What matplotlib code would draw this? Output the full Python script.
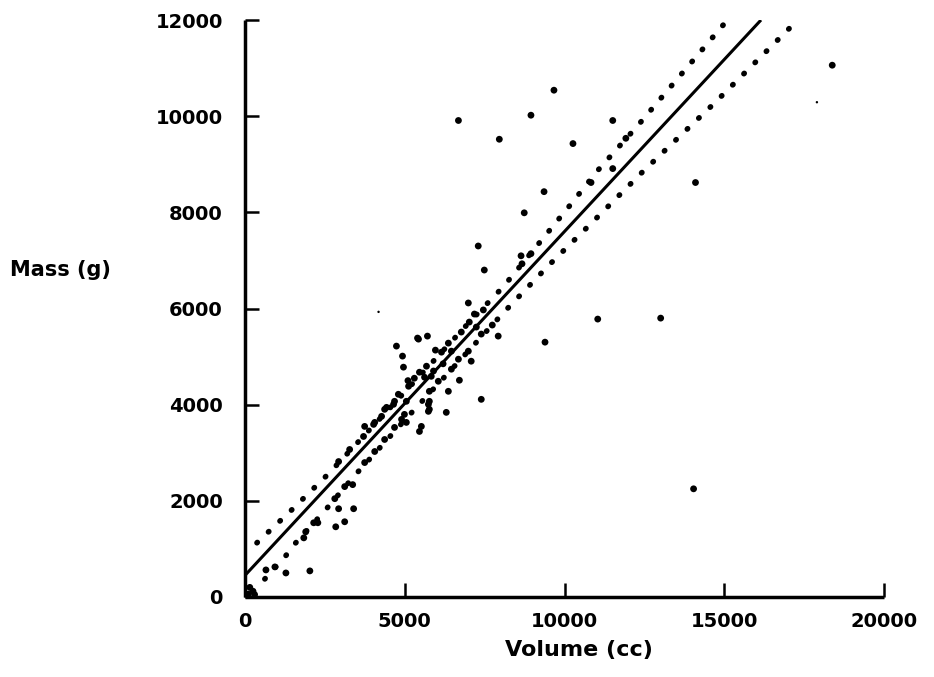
import matplotlib
matplotlib.use("Agg")
import matplotlib.pyplot as plt

# ---- data ----
volume = [655, 936, 1280, 2030, 1840, 1900, 2150, 2280, 2840, 3120, 2810, 2930, 3400,
          3120, 3370, 2930, 3745, 3275, 4060, 3710, 4370, 3745, 4025,
          4370, 4650, 4990, 4680, 5050, 5460, 5740, 5740, 6300, 4740, 4930, 4960,
          5400, 5710, 5960, 6150, 6365, 6460, 6770, 7020, 7240, 6990, 7080, 6680,
          6460, 5680, 5460, 5620, 5830, 6050, 6710, 6365, 5770, 5120, 4800, 4680,
          4430, 5050, 5770, 5770, 7395, 5520, 4900, 4060, 4275, 5300, 5900, 6200,
          5100, 6990, 7180, 7460, 7740, 7925, 7395, 5430,
          7300, 7490, 8950, 8640, 8670, 11040, 9390, 9670, 6680, 8950, 7960, 9360,
          8740, 11510, 10265, 11920, 11510, 10830, 14100, 13010, 14040, 18380,
          100, 250, 150, 300]
mass = [563, 626, 500, 543, 1230, 1356, 1544, 1544, 1460, 1565, 2045, 1836, 1836,
        2296, 2337, 2817, 2796, 3068, 3026, 3339, 3276, 3548, 3590,
        3903, 4007, 3798, 3527, 3631, 3443, 4007, 3861, 3840, 5218, 5010, 4780,
        5385, 5426, 5134, 5092, 5280, 5113, 5510, 5718, 5614, 5113, 4904, 4946,
        4738, 4800, 4675, 4570, 4590, 4487, 4508, 4278, 4278, 4383, 4216, 4070,
        3944, 4070, 4070, 3903, 4111, 3548, 3694, 3631, 3757, 4550, 4700, 4850,
        4500, 6115, 5885, 5970, 5656, 5426, 5468, 5363,
        7300, 6800, 7140, 7096, 6930, 5780, 5300, 10540, 9910, 10020, 9520, 8430,
        7990, 9910, 9430, 9540, 8910, 8620, 8620, 5800, 2250, 11060,
        60, 120, 200, 50]

speck_volume = [17900, 4180]
speck_mass = [10290, 5930]

fit_volume = [0, 16150]
fit_mass = [450, 12000]

upper_volume = [374, 1500, 2620, 4000, 5500, 7000, 8080, 9240, 10140, 11040, 12300, 13230, 15100]
upper_mass = [1127, 1836, 2567, 3550, 4620, 5700, 6449, 7388, 8120, 8870, 9810, 10540, 12000]

lower_volume = [620, 1250, 1560, 2500, 3430, 3775, 5000, 6500, 8110, 9490, 10920, 12390,
                13540, 14660, 17300]
lower_mass = [375, 835, 1106, 1795, 2525, 2776, 3680, 4760, 5927, 6887, 7826, 8807,
              9540, 10250, 12000]

x_ticks = [0, 5000, 10000, 15000, 20000]
y_ticks = [0, 2000, 4000, 6000, 8000, 10000, 12000]

# ---- figure ----
W, H = 934, 677
fig = plt.figure(figsize=(W / 100, H / 100), dpi=100)
ax = fig.add_axes([245 / W, (H - 597) / H, (884 - 245) / W, (597 - 20) / H])

font = dict(family="DejaVu Sans", weight="bold", size=14)

ax.scatter(volume, mass, s=24, c="black", edgecolors="none", zorder=3, clip_on=False)
ax.scatter(speck_volume, speck_mass, s=3, c="black", edgecolors="none", zorder=3)
ax.plot(fit_volume, fit_mass, color="black", lw=2.2, solid_capstyle="butt", zorder=2)
ax.plot(upper_volume, upper_mass, color="black", lw=4.0,
        linestyle=(0, (0.1, 2.75)), dash_capstyle="round", zorder=2)
ax.plot(lower_volume, lower_mass, color="black", lw=4.0,
        linestyle=(0, (0.1, 2.75)), dash_capstyle="round", zorder=2)

ax.set_xlim(0, 20000)
ax.set_ylim(0, 12000)
ax.set_xticks(x_ticks)
ax.set_yticks(y_ticks)
ax.set_xticklabels([str(v) for v in x_ticks], fontdict=font)
ax.set_yticklabels([str(v) for v in y_ticks], fontdict=font)

for s in ["top", "right"]:
    ax.spines[s].set_visible(False)
for s in ["left", "bottom"]:
    ax.spines[s].set_linewidth(2.5)
    ax.spines[s].set_capstyle("butt")

ax.tick_params(axis="x", direction="in", length=10, width=1.8, pad=11)
ax.tick_params(axis="y", direction="in", length=10, width=1.8, pad=16)

fig.text(10 / W, 1 - 270 / H, "Mass (g)", ha="left", va="center",
         family="DejaVu Sans", weight="bold", size=15)
fig.text(579 / W, 1 - 650 / H, "Volume (cc)", ha="center", va="center",
         family="DejaVu Sans", weight="bold", size=16)

fig.savefig("out.png", dpi=100, facecolor="white")
